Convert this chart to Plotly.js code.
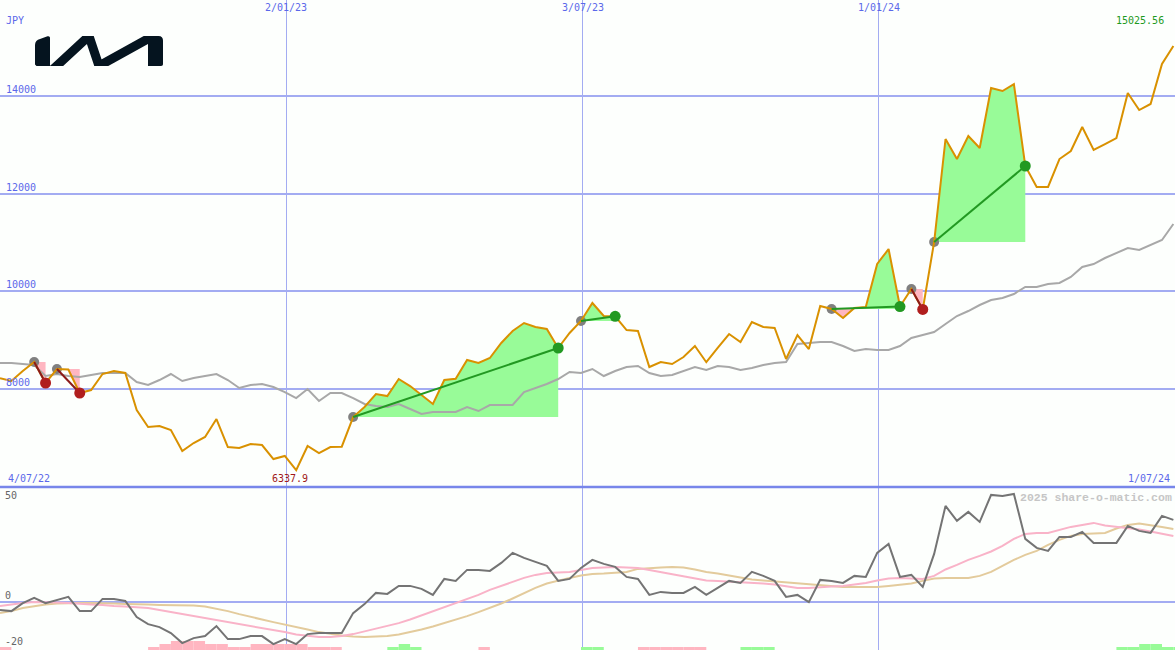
<!DOCTYPE html>
<html><head><meta charset="utf-8">
<script src="https://cdn.plot.ly/plotly-3.0.1.min.js"></script>
<style>html,body{margin:0;padding:0;background:#fdfffd;}#chart{width:1175px;height:650px;}</style>
</head><body><div id="chart"></div>
<script>
// ---------- data (weekly) ----------
const weekStart = '2022-07-10';
const xStart = '2022-07-10';
const xEnd = '2024-07-01';
const price = [
8220, 8165, 8370, 8554, 8124, 8410, 8400, 7919, 7980, 8308,
8370, 8329, 7571, 7223, 7243, 7161, 6731, 6895, 7018, 7386,
6813, 6793, 6874, 6854, 6567, 6629, 6337.9, 6834, 6690, 6813,
6820, 7427, 7632, 7898, 7857, 8206, 8062, 7878, 7694, 8185,
8210, 8595, 8533, 8636, 8943, 9189, 9353, 9271, 9230, 8841,
9148, 9394, 9762, 9496, 9490, 9209, 9189, 8451, 8554, 8513,
8656, 8882, 8550, 8841, 9127, 8963, 9373, 9271, 9250, 8615,
9107, 8820, 9701, 9639, 9455, 9660, 9680, 10561, 10868, 9690,
10049, 9630, 11011, 13121, 12711, 13182, 12936, 14165, 14104, 14247,
12568, 12138, 12140, 12711, 12875, 13367, 12896, 13018, 13141, 14063,
13715, 13838, 14657, 15025.56];
const benchmark = [
8533, 8533, 8513, 8492, 8270, 8308, 8267, 8247, 8288, 8329,
8329, 8329, 8144, 8083, 8185, 8308, 8165, 8226, 8267, 8308,
8185, 8021, 8083, 8103, 8042, 7939, 7816, 8001, 7755, 7919,
7919, 7816, 7694, 7653, 7632, 7694, 7591, 7489, 7530, 7530,
7530, 7632, 7550, 7673, 7673, 7673, 7939, 8021, 8103, 8206,
8349, 8329, 8411, 8267, 8370, 8452, 8472, 8329, 8267, 8288,
8370, 8452, 8390, 8472, 8452, 8390, 8431, 8492, 8533, 8554,
8922, 8943, 8963, 8963, 8882, 8779, 8820, 8800, 8800, 8882,
9045, 9107, 9168, 9332, 9496, 9598, 9721, 9824, 9865, 9947,
10090, 10090, 10152, 10172, 10295, 10500, 10561, 10684, 10786, 10889,
10848, 10950, 11053, 11380];
const momentum = [
-4.2, -4.7, -0.7, 1.9, -0.7, 0.9, 2.4, -4.7, -4.7, 1.4,
1.4, 0.4, -7.7, -11.2, -12.7, -15.7, -20.7, -18.2, -17.2, -12.2,
-18.7, -18.7, -17.2, -17.2, -21.2, -18.7, -21.2, -16.2, -15.7, -15.7,
-15.7, -5.7, -1.2, 4.4, 3.9, 7.9, 7.9, 6.4, 3.4, 11.4,
10.4, 15.9, 15.9, 15.4, 19.4, 24.4, 21.9, 19.9, 17.9, 10.4,
11.4, 16.9, 20.9, 18.9, 17.4, 12.4, 11.4, 3.4, 4.9, 4.4,
4.4, 7.4, 3.4, 6.9, 10.4, 9.4, 14.9, 12.9, 10.4, 2.4,
3.4, -0.2, 10.9, 10.4, 9.4, 12.9, 12.4, 24.4, 28.9, 12.4,
13.4, 7.4, 23.9, 47.9, 40.4, 44.9, 39.9, 53.4, 52.9, 53.9,
31.4, 26.9, 25.4, 32.4, 32.4, 34.9, 29.4, 29.4, 29.4, 37.9,
35.4, 34.4, 42.9, 40.9];
const maFast = [
-2.2, -1.4, -0.6, -0.2, -0.2, -0.4, -0.6, -1.1, -1.4, -1.6,
-2.2, -2.4, -2.7, -3.2, -4.2, -5.2, -6.2, -6.9, -7.9, -8.9,
-9.9, -10.9, -11.9, -12.9, -13.9, -15.2, -16.4, -17.2, -17.7, -17.7,
-17.2, -16.2, -14.9, -13.4, -12.2, -10.7, -8.9, -6.9, -4.9, -2.7,
-0.9, 1.1, 3.4, 5.9, 7.9, 9.9, 11.9, 13.4, 14.4, 14.6,
14.9, 15.9, 16.9, 17.1, 17.4, 17.1, 16.9, 15.9, 14.9, 13.9,
12.9, 11.9, 10.6, 10.4, 10.1, 9.9, 9.6, 9.1, 8.6, 7.6,
6.9, 6.9, 7.4, 7.6, 7.9, 8.6, 9.4, 10.6, 11.6, 11.9,
11.6, 11.4, 12.9, 16.1, 18.4, 20.9, 22.9, 25.1, 27.9, 31.4,
33.9, 34.4, 34.4, 35.9, 37.4, 38.4, 39.4, 38.1, 37.4, 36.9,
36.1, 35.1, 34.1, 32.9];
const maSlow = [
-5.7, -4.7, -3.2, -2.2, -1.4, -0.9, -0.6, -0.6, -0.6, -0.6,
-0.9, -1.1, -1.1, -1.4, -1.6, -1.6, -1.6, -1.9, -2.4, -3.4,
-4.7, -6.2, -7.7, -8.9, -10.2, -11.4, -12.4, -13.9, -15.2, -16.2,
-16.9, -17.4, -17.7, -17.4, -17.2, -16.4, -15.2, -13.9, -12.4, -10.7,
-9.2, -7.2, -5.2, -3.2, -0.9, 1.6, 4.4, 6.9, 9.1, 10.6,
11.9, 13.1, 13.9, 14.1, 14.4, 14.9, 16.4, 16.9, 17.1, 17.4,
17.1, 16.1, 14.9, 14.1, 13.1, 11.9, 11.1, 10.6, 10.1, 9.6,
9.4, 8.9, 8.4, 7.9, 7.4, 7.4, 7.4, 7.4, 7.9, 8.4,
9.1, 10.4, 11.6, 11.9, 11.9, 11.9, 12.9, 14.9, 17.9, 20.9,
23.4, 25.4, 28.4, 30.9, 32.9, 33.9, 34.1, 34.4, 36.6, 38.4,
39.1, 38.4, 37.4, 36.4];
const barSignal = [
-1, 0, 0, 0, 0, 0, 0, 0, 0, 0,
0, 0, 0, -1, -2, -3, -3, -3, -2, -2,
-1, -1, -2, -2, -2, -2, -2, -1, -1, -1,
0, 0, 0, 0, 1, 2, 1, 0, 0, 0,
0, 0, -1, 0, 0, 0, 0, 0, 0, 0,
0, 1, 1, 0, 0, 0, -1, -1, -1, -1,
-1, -1, 0, 0, 0, 1, 1, 1, 0, 0,
0, 0, 0, 0, 0, 0, 0, 0, 0, 0,
0, 0, 0, 0, 0, 0, 0, 0, 0, 0,
0, 0, 0, 0, 0, 0, 0, 0, 1, 1,
2, 2, 1, 1];
const tradeEntryWeek = [3, 5, 31, 51, 73, 80, 82];
const tradeExitWeek  = [4, 7, 49, 54, 79, 81, 90];
const gridDates = ['2023-01-02', '2023-07-03', '2024-01-01'];
const gridDateLabels = ['2/01/23', '3/07/23', '1/01/24'];
const priceTicks = [8000, 10000, 12000, 14000];
const oscTicks = [50, 0, -20];
const currency = 'JPY';
const startLabel = '4/07/22';
const endLabel = '1/07/24';
const watermark = '2025 share-o-matic.com';

// ---------- helpers ----------
const DAY = 86400000;
const t0 = Date.parse(weekStart + 'T00:00:00Z');
const fmt = ms => new Date(ms).toISOString().slice(0, 19).replace('T', ' ');
const dms = price.map((_, i) => t0 + i * 7 * DAY);
const dates = dms.map(fmt);

const GREEN_FILL = '#98fb98', PINK_FILL = '#ffb6c1';
const traces = [];

// trade fills
tradeEntryWeek.forEach((e, k) => {
  const x = tradeExitWeek[k];
  const lvl = price[e];
  const pts = [];
  for (let i = e; i <= x; i++) {
    pts.push([dms[i], price[i]]);
    if (i < x) {
      const a = price[i] - lvl, b = price[i + 1] - lvl;
      if (a * b < 0) { const t = a / (a - b); pts.push([dms[i] + t * (dms[i + 1] - dms[i]), lvl]); }
    }
  }
  [[Math.max, GREEN_FILL], [Math.min, PINK_FILL]].forEach(([f, col]) => {
    const xs = pts.map(p => fmt(p[0])).concat([dates[x], dates[e]]);
    const ys = pts.map(p => f(p[1], lvl)).concat([lvl, lvl]);
    traces.push({type: 'scatter', mode: 'lines', x: xs, y: ys, fill: 'toself', fillcolor: col,
      line: {width: 0, color: col}, xaxis: 'x', yaxis: 'y', hoverinfo: 'skip'});
  });
});

// benchmark
traces.push({type: 'scatter', mode: 'lines', x: dates, y: benchmark, line: {color: '#a8a8a8', width: 2}, xaxis: 'x', yaxis: 'y'});
// entry dots
traces.push({type: 'scatter', mode: 'markers', x: tradeEntryWeek.map(i => dates[i]), y: tradeEntryWeek.map(i => price[i]),
  marker: {color: '#808080', size: 10}, xaxis: 'x', yaxis: 'y'});
// price
traces.push({type: 'scatter', mode: 'lines', x: dates, y: price, line: {color: '#d99100', width: 2}, xaxis: 'x', yaxis: 'y'});
// trade lines + exit dots
tradeEntryWeek.forEach((e, k) => {
  const x = tradeExitWeek[k];
  const win = price[x] >= price[e];
  traces.push({type: 'scatter', mode: 'lines', x: [dates[e], dates[x]], y: [price[e], price[x]],
    line: {color: win ? '#229922' : '#8b1a1a', width: 2}, xaxis: 'x', yaxis: 'y'});
});
traces.push({type: 'scatter', mode: 'markers', x: tradeExitWeek.map(i => dates[i]), y: tradeExitWeek.map(i => price[i]),
  marker: {color: tradeExitWeek.map((x, k) => price[x] >= price[tradeEntryWeek[k]] ? '#229922' : '#b01e1e'), size: 11},
  xaxis: 'x', yaxis: 'y'});

// bottom bars (y2) and oscillator lines (y3)
const W = 7 * DAY;
traces.push({type: 'bar', x: dates, y: barSignal.map(v => v < 0 ? -v : 0), width: W, offset: 0,
  marker: {color: PINK_FILL, line: {width: 0}}, xaxis: 'x', yaxis: 'y2'});
traces.push({type: 'bar', x: dates, y: barSignal.map(v => v > 0 ? v : 0), width: W, offset: 0,
  marker: {color: GREEN_FILL, line: {width: 0}}, xaxis: 'x', yaxis: 'y2'});
traces.push({type: 'scatter', mode: 'lines', x: dates, y: maSlow, line: {color: '#e3cb9c', width: 2}, xaxis: 'x', yaxis: 'y3'});
traces.push({type: 'scatter', mode: 'lines', x: dates, y: maFast, line: {color: '#f9b3c8', width: 2}, xaxis: 'x', yaxis: 'y3'});
traces.push({type: 'scatter', mode: 'lines', x: dates, y: momentum, line: {color: '#747474', width: 2}, xaxis: 'x', yaxis: 'y3'});

// ---------- layout ----------
const H = 650, splitPx = 487;
const split = (H - splitPx) / H;
const GRID = '#a3acf2';
const BLUE = '#5b68ea';
const MONO = 'DejaVu Sans Mono, monospace';

const ann = [];
gridDates.forEach((d, k) => ann.push({x: d, xref: 'x', y: 1, yref: 'paper', xanchor: 'center', yanchor: 'top', yshift: 0,
  text: gridDateLabels[k], showarrow: false, font: {family: MONO, size: 10, color: BLUE}}));
priceTicks.forEach(v => ann.push({x: 0, xref: 'paper', xanchor: 'left', xshift: 4, y: v, yref: 'y', yanchor: 'bottom', yshift: -1,
  text: String(v), showarrow: false, font: {family: MONO, size: 10, color: BLUE}}));
ann.push({x: 0, xref: 'paper', xanchor: 'left', xshift: 4, y: 1, yref: 'paper', yanchor: 'top', yshift: -13,
  text: currency, showarrow: false, font: {family: MONO, size: 10, color: BLUE}});
ann.push({x: 0, xref: 'paper', xanchor: 'left', xshift: 6, y: split, yref: 'paper', yanchor: 'bottom', yshift: 1,
  text: startLabel, showarrow: false, font: {family: MONO, size: 10, color: BLUE}});
ann.push({x: 1, xref: 'paper', xanchor: 'right', xshift: -3, y: split, yref: 'paper', yanchor: 'bottom', yshift: 1,
  text: endLabel, showarrow: false, font: {family: MONO, size: 10, color: BLUE}});
const minIdx = price.indexOf(Math.min(...price));
ann.push({x: dates[minIdx], xref: 'x', xanchor: 'center', xshift: -6, y: split, yref: 'paper', yanchor: 'bottom', yshift: 1,
  text: String(price[minIdx]), showarrow: false, font: {family: MONO, size: 10, color: '#a01818'}});
const last = price[price.length - 1];
ann.push({x: 1, xref: 'paper', xanchor: 'right', xshift: -9, y: 1, yref: 'paper', yanchor: 'top', yshift: -13,
  text: last.toFixed(2), showarrow: false, font: {family: MONO, size: 10, color: '#1e9a1e'}});
oscTicks.forEach(v => ann.push({x: 0, xref: 'paper', xanchor: 'left', xshift: 3, y: v, yref: 'y3',
  yanchor: v < 0 ? 'middle' : 'bottom', yshift: v < 0 ? 0 : -1,
  text: String(v), showarrow: false, font: {family: MONO, size: 10, color: '#666666'}}));
ann.push({x: 1, xref: 'paper', xanchor: 'right', xshift: -1, y: split, yref: 'paper', yanchor: 'top', yshift: -2,
  text: '<b>' + watermark + '</b>', showarrow: false, font: {family: 'Liberation Mono, monospace', size: 11.5, color: '#c6c6c6'}});

const logoSvg = "<svg xmlns='http://www.w3.org/2000/svg' width='128' height='30' viewBox='0 0 128 30'>" +
  "<defs><clipPath id='c'><rect x='0' y='0' width='128' height='30'/></clipPath></defs>" +
  "<g clip-path='url(#c)' fill='#05141f'>" +
  "<path d='M0,28.5 L0,9 C0,5.5 2,4 5,3 L12.5,0.3 C14,-0.2 15,0.6 15,2 L15,30 L1.5,30 Z'/>" +
  "<path d='M12.7,38.1 L21.5,30 L54,0 L64,30 L118,0' fill='none' stroke='#05141f' stroke-width='9' stroke-linejoin='miter' stroke-miterlimit='12'/>" +
  "<path d='M113,30 L113,0 L123.5,0 C126.5,0 128,1.8 128,4.5 L128,28 C128,29.3 127.3,30 126,30 Z'/>" +
  "</g></svg>";

const layout = {
  width: 1175, height: 650,
  margin: {l: 0, r: 0, t: 0, b: 0, pad: 0},
  paper_bgcolor: '#fdfffd', plot_bgcolor: '#fdfffd',
  showlegend: false, barmode: 'overlay', hovermode: false,
  xaxis: {type: 'date', range: [xStart, xEnd], tickmode: 'array', tickvals: gridDates, showticklabels: false, ticks: '',
    showgrid: true, gridcolor: GRID, gridwidth: 1, zeroline: false, showline: false, fixedrange: true},
  yaxis: {domain: [split, 1], range: [5994, 15968], tickmode: 'array', tickvals: priceTicks, showticklabels: false, ticks: '',
    showgrid: true, gridcolor: GRID, gridwidth: 2, zeroline: false, showline: false},
  yaxis2: {domain: [0, split], range: [0, 54.33], visible: false, showgrid: false, zeroline: false},
  yaxis3: {overlaying: 'y2', range: [-24.15, 57.35], tickmode: 'array', tickvals: [0], showticklabels: false, ticks: '',
    showgrid: true, gridcolor: GRID, gridwidth: 2, zeroline: false, showline: false},
  shapes: [{type: 'line', xref: 'paper', yref: 'paper', x0: 0, x1: 1, y0: split, y1: split, line: {color: '#7886ea', width: 2.5}, layer: 'above'}],
  annotations: ann,
  images: [{source: 'data:image/svg+xml;charset=utf-8,' + encodeURIComponent(logoSvg), xref: 'paper', yref: 'paper',
    x: 35 / 1175, y: 1 - 36 / 650, sizex: 128 / 1175, sizey: 30 / 650, xanchor: 'left', yanchor: 'top', sizing: 'stretch', layer: 'above'}]
};

Plotly.newPlot('chart', traces, layout, {staticPlot: true, displayModeBar: false});
</script></body></html>
